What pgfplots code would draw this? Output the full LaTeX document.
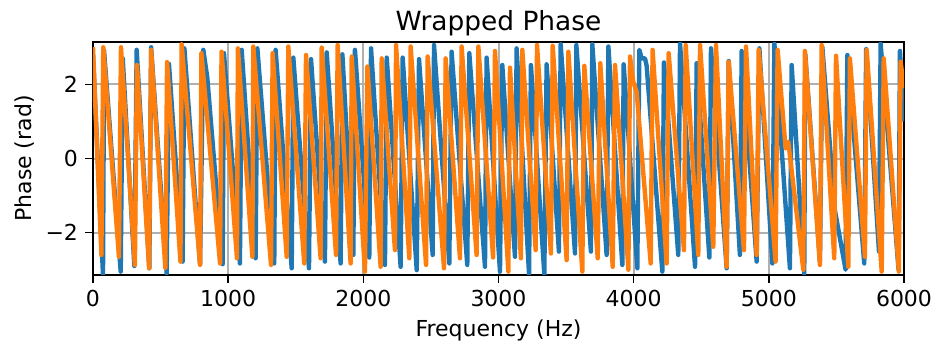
\documentclass[border=0pt]{standalone}
\usepackage{pgfplots}
\pgfplotsset{compat=1.18}
\usepackage{fontspec}
\setmainfont{DejaVu Sans}
\definecolor{mblue}{HTML}{1F77B4}
\definecolor{morange}{HTML}{FF7F0E}
\begin{document}
\begin{tikzpicture}
\useasboundingbox (-46.5pt,-36pt) rectangle (421.5pt,137.5pt);
\begin{axis}[
  at={(0,0)}, anchor=south west,
  scale only axis, width=405.5pt, height=116.5pt,
  xmin=0, xmax=6000, ymin=-3.14159, ymax=3.14159,
  xtick={0,1000,2000,3000,4000,5000,6000},
  xticklabels={0,1000,2000,3000,4000,5000,6000},
  ytick={-2,0,2}, yticklabels={−2,0,2},
  tick align=outside, major tick length=4pt,
  tick style={black, line width=0.7pt},
  xtick pos=bottom, ytick pos=left,
  grid=major, grid style={color=black!31, line width=1pt},
  axis line style={line width=0.9pt},
  ticklabel style={font=\fontsize{11}{13}\selectfont},
  label style={font=\fontsize{11}{13}\selectfont},
  title style={font=\fontsize{13.2}{15}\selectfont, at={(axis description cs:0.5,1.03)}, anchor=center},
  title={Wrapped Phase},
  xlabel={Frequency (Hz)}, ylabel={Phase (rad)},
  xlabel style={at={(axis description cs:0.5,-0.236)}, anchor=center},
  ylabel style={at={(axis description cs:-0.0838,0.5)}, anchor=center, rotate=0},
  every axis plot/.append style={line width=2.2pt, line join=round},
]
\addplot[mblue] coordinates {
(0,2.8) (74,-3.14) (82,2.9) (205,-3.05) (220,2.70) (306,-2.9) (323,2.93) (417,-2.96)
(430,3.0) (545,-3.1) (562,2.55) (663,-2.78) (676,2.97) (792,-2.85) (816,2.93) (845,2.2)
(959,-2.85) (969,2.84) (1087,-2.83) (1100,2.93) (1203,-2.69) (1216,2.97) (1341,-2.83)
(1351,2.93) (1470,-2.96) (1482,2.72) (1598,-2.96) (1613,2.68) (1716,-2.78) (1729,2.86)
(1832,-2.83) (1845,2.81) (1926,-2.6) (1938,2.93) (2044,-2.67) (2057,2.97) (2160,-2.87)
(2173,2.72) (2276,-2.92) (2291,2.72) (2395,-3.01) (2412,2.68) (2513,-2.6) (2523,3.06)
(2636,-2.83) (2653,2.88) (2769,-2.87) (2784,2.84) (2900,-2.92) (2912,2.72) (3011,-3.05)
(3028,2.52) (3122,-2.65) (3134,2.97) (3226,-3.12) (3240,2.52) (3339,-3.12) (3356,2.54)
(3447,-2.51) (3460,3.08) (3566,-2.56) (3576,3.06) (3684,-2.51) (3694,3.08) (3800,-2.6)
(3813,3.02) (3916,-2.87) (3926,2.54) (4027,-2.96) (4042,2.93) (4059,2.7) (4084,2.7)
(4096,2.5) (4212,-3.05) (4224,2.59) (4330,-2.6) (4343,3.1) (4454,-2.92) (4466,2.57)
(4560,-2.67) (4572,2.97) (4688,-2.96) (4703,2.63) (4786,-2.6) (4799,2.9) (4910,-2.78)
(4930,2.97) (5026,-2.83) (5041,3.1) (5156,-2.96) (5169,2.52) (5262,-3.1) (5270,2.8)
(5378,-2.78) (5396,3.0) (5489,-1.4) (5568,-3.0) (5581,2.79) (5706,-2.83) (5720,2.95)
(5815,-2.51) (5827,3.1) (5960,-3.0) (5970,2.9) (6000,1.0)
};
\addplot[morange] coordinates {
(0,3.0) (62,-2.6) (76,3.0) (192,-2.65) (207,3.0) (310,-2.87) (325,2.52) (415,-2.96)
(430,2.93) (535,-2.95) (548,2.6) (647,-2.78) (656,3.08) (792,-2.87) (802,2.84)
(940,-2.83) (951,2.88) (1065,-2.69) (1072,2.97) (1179,-2.65) (1186,3.02) (1317,-2.87)
(1329,2.84) (1433,-2.65) (1445,3.02) (1563,-2.83) (1576,2.79) (1684,-2.69) (1692,2.99)
(1798,-2.6) (1810,3.06) (1906,-2.83) (1914,2.75) (2012,-3.05) (2030,2.48) (2128,-2.92)
(2136,2.7) (2234,-2.47) (2242,3.06) (2340,-2.69) (2350,3.02) (2464,-2.87) (2476,2.75)
(2597,-2.96) (2609,2.7) (2715,-2.69) (2727,3.02) (2838,-2.6) (2851,3.02) (2960,-2.67)
(2974,2.9) (3073,-3.05) (3085,2.45) (3166,-2.69) (3176,2.93) (3275,-2.47) (3285,3.06)
(3388,-2.56) (3401,3.04) (3504,-2.74) (3517,2.88) (3620,-3.05) (3635,2.5) (3734,-2.69)
(3753,2.57) (3845,-2.92) (3862,2.52) (3961,-3.0) (3973,2.75) (3997,2.07) (4022,1.8)
(4126,-2.83) (4140,2.93) (4244,-2.83) (4259,2.84) (4372,-2.47) (4385,3.06) (4478,-2.6)
(4491,3.06) (4589,-2.38) (4609,3.06) (4688,-2.92) (4703,2.61) (4816,-2.47) (4831,3.02)
(4910,-2.6) (4925,2.93) (5050,-2.78) (5065,2.93) (5124,0.27) (5144,0.45) (5255,-3.0)
(5267,2.9) (5378,-2.87) (5391,3.06) (5484,-2.69) (5497,2.77) (5588,-2.92) (5600,2.7)
(5711,-2.65) (5724,2.93) (5835,-3.05) (5850,2.7) (5962,-3.05) (5975,2.61) (6000,1.9)
};
\end{axis}
\end{tikzpicture}
\end{document}
